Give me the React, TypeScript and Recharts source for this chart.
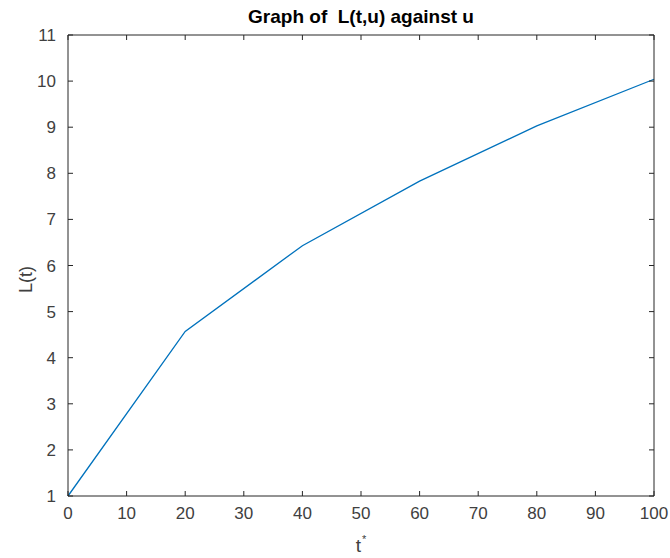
import React from 'react';
import { LineChart, Line, XAxis, YAxis } from 'recharts';

const tValues = [0, 20, 40, 60, 80, 100];
const lValues = [1, 4.57, 6.43, 7.83, 9.03, 10.04];
const xTicks = [0, 10, 20, 30, 40, 50, 60, 70, 80, 90, 100];
const yTicks = [1, 2, 3, 4, 5, 6, 7, 8, 9, 10, 11];

const chartData = tValues.map((t, i) => ({ t, L: lValues[i] }));

const AXIS = '#262626';
const LABEL = '#404040';
const FONT = '"Liberation Sans Narrow", "Liberation Sans", Arial, sans-serif';

const BottomTick = ({ x, y, payload }: any) => (
  <g>
    <line x1={x} x2={x} y1={y} y2={y - 5} stroke={AXIS} />
    <text x={x} y={y + 23} textAnchor="middle" fill={LABEL} fontSize={17} fontFamily={FONT}>
      {payload.value}
    </text>
  </g>
);

const TopTick = ({ x, y }: any) => (
  <line x1={x} x2={x} y1={y} y2={y + 5} stroke={AXIS} />
);

const LeftTick = ({ x, y, payload }: any) => (
  <g>
    <line x1={x} x2={x + 5} y1={y} y2={y} stroke={AXIS} />
    <text x={x - 12} y={y + 6} textAnchor="end" fill={LABEL} fontSize={17} fontFamily={FONT}>
      {payload.value}
    </text>
  </g>
);

const RightTick = ({ x, y }: any) => (
  <line x1={x} x2={x - 5} y1={y} y2={y} stroke={AXIS} />
);

export default function App() {
  return (
    <div style={{ position: 'absolute', left: 0, top: 0, background: '#fff' }}>
      <LineChart width={670} height={558} data={chartData} margin={{ top: 34, right: 15, bottom: 0, left: 0 }}>
        <XAxis
          xAxisId="b"
          dataKey="t"
          type="number"
          domain={[0, 100]}
          ticks={xTicks}
          height={62}
          stroke={AXIS}
          tickLine={false}
          tickSize={0}
          tickMargin={0}
          tick={<BottomTick />}
          label={{
            content: (p: any) => {
              const vb = p.viewBox;
              return (
                <text x={vb.x + vb.width / 2} y={vb.y + 56} textAnchor="middle" fill={LABEL} fontSize={19} fontFamily={FONT}>
                  t
                  <tspan dx={1} dy={-9} fontSize={11}>*</tspan>
                </text>
              );
            },
          }}
        />
        <XAxis
          xAxisId="top"
          orientation="top"
          dataKey="t"
          type="number"
          domain={[0, 100]}
          ticks={xTicks}
          height={1}
          stroke={AXIS}
          tickLine={false}
          tickSize={0}
          tickMargin={0}
          tick={<TopTick />}
          label={{
            content: (p: any) => {
              const vb = p.viewBox;
              return (
                <text x={vb.x + vb.width / 2} y={vb.y - 11} textAnchor="middle" fill="#000" fontSize={19} fontWeight="bold" fontFamily={FONT}>
                  {'Graph of \u00a0L(t,u) against u'}
                </text>
              );
            },
          }}
        />
        <YAxis
          yAxisId="l"
          type="number"
          domain={[1, 11]}
          ticks={yTicks}
          width={68}
          stroke={AXIS}
          tickLine={false}
          tickSize={0}
          tickMargin={0}
          tick={<LeftTick />}
          label={{
            content: (p: any) => {
              const vb = p.viewBox;
              const cx = 26;
              const cy = vb.y + vb.height / 2 + 14;
              return (
                <text x={cx} y={cy} transform={`rotate(-90 ${cx} ${cy})`} textAnchor="middle" dominantBaseline="central" fill={LABEL} fontSize={18} fontFamily={FONT}>
                  L(t)
                </text>
              );
            },
          }}
        />
        <YAxis
          yAxisId="r"
          orientation="right"
          type="number"
          domain={[1, 11]}
          ticks={yTicks}
          width={1}
          stroke={AXIS}
          tickLine={false}
          tickSize={0}
          tickMargin={0}
          tick={<RightTick />}
        />
        {/* invisible series so the mirrored box axes get drawn */}
        <Line
          xAxisId="top"
          yAxisId="r"
          type="linear"
          dataKey="L"
          stroke="none"
          dot={false}
          activeDot={false}
          legendType="none"
          isAnimationActive={false}
        />
        <Line
          xAxisId="b"
          yAxisId="l"
          type="linear"
          dataKey="L"
          stroke="#0072BD"
          strokeWidth={1.3}
          dot={false}
          isAnimationActive={false}
        />
      </LineChart>
    </div>
  );
}
